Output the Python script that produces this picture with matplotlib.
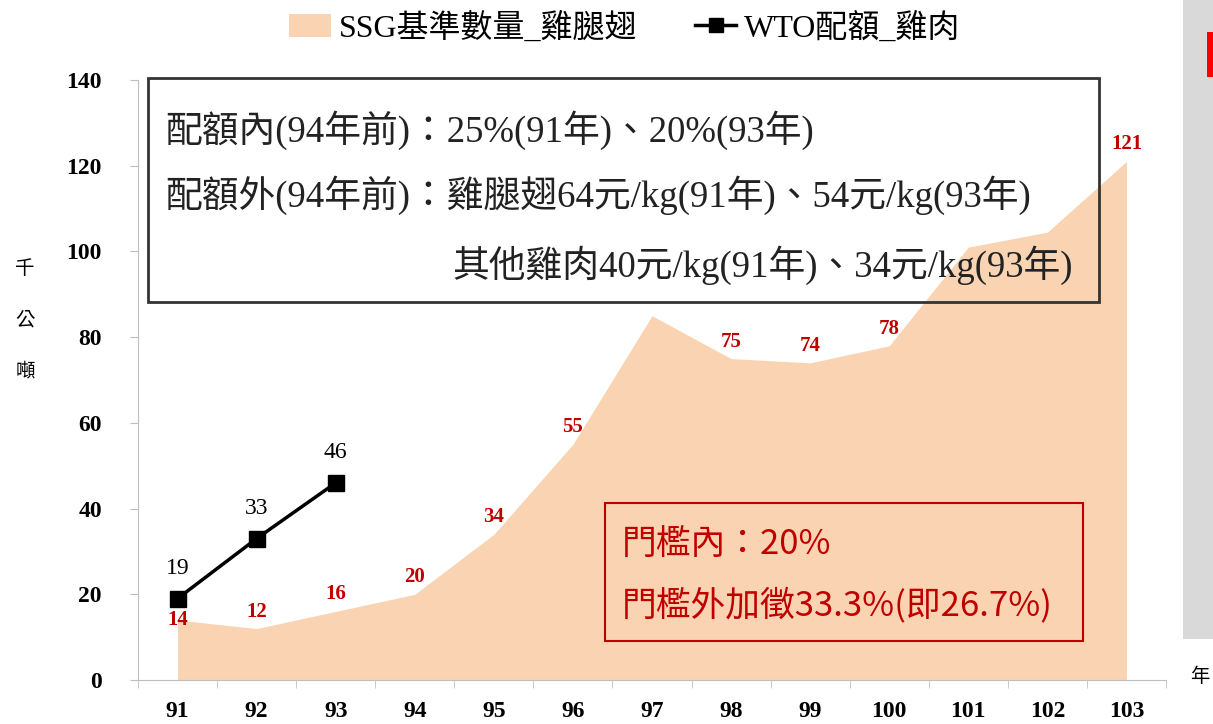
import matplotlib.pyplot as plt
from matplotlib.patches import Rectangle
from matplotlib.lines import Line2D

# ---- data ----
years = [91, 92, 93, 94, 95, 96, 97, 98, 99, 100, 101, 102, 103]
ssg_wing = [14, 12, 16, 20, 34, 55, 85, 75, 74, 78, 101, 104.5, 121]
ssg_labels = ["14", "12", "16", "20", "34", "55", "", "75", "74", "78", "", "", "121"]
wto_years = [91, 92, 93]
wto_chicken = [19, 33, 46]
yticks = [0, 20, 40, 60, 80, 100, 120, 140]

CJK = ["Noto Sans CJK TC", "DejaVu Sans"]
MIX = ["Liberation Serif", "Noto Sans CJK TC"]
SERIF = "Liberation Serif"
PEACH = "#fad4b2"
RED = "#c00000"

fig = plt.figure(figsize=(12.13, 7.24), dpi=100)
ax = fig.add_axes([138 / 1213, 1 - 680 / 724, 1028 / 1213, 600 / 724])

# area + line
ax.fill_between(years, ssg_wing, 0, color=PEACH, lw=0, zorder=1)
ax.plot(wto_years, wto_chicken, color="black", lw=2.5, marker="s", ms=12, zorder=4)

for x, y, lab in zip(years, ssg_wing, ssg_labels):
    if not lab:
        continue
    dy = 17 if x != 91 else 0
    ax.annotate(lab, (x, y), xytext=(0, dy * 0.72), textcoords="offset points",
                ha="center", va="center", color=RED, fontsize=15,
                fontweight="bold", family=SERIF, zorder=5)
for x, y in zip(wto_years, wto_chicken):
    ax.annotate(str(y), (x, y), xytext=(0, 30 * 0.72), textcoords="offset points",
                ha="center", va="center", color="black", fontsize=17,
                family=SERIF, zorder=5)

# axes
ax.set_xlim(90.5, 103.5)
ax.set_ylim(0, 140)
ax.set_yticks(yticks)
ax.set_xticks(years)
ax.set_xticks([y - 0.5 for y in years] + [103.5], minor=True)
ax.tick_params(axis="x", which="major", length=0, pad=15)
ax.tick_params(axis="x", which="minor", length=6, color="#bfbfbf", direction="out")
ax.tick_params(axis="y", length=6, color="#bfbfbf", direction="out", pad=20)
for lab in ax.get_xticklabels() + ax.get_yticklabels():
    lab.set_family(SERIF)
    lab.set_fontweight("bold")
    lab.set_fontsize(17)
for s in ["top", "right"]:
    ax.spines[s].set_visible(False)
ax.spines["left"].set_color("#bfbfbf")
ax.spines["bottom"].set_color("#bfbfbf")

# black note box
fig.patches.append(Rectangle((148 / 1213, 1 - 302 / 724), 951 / 1213, 224 / 724,
                             transform=fig.transFigure, fill=False, ec="#333333",
                             lw=2, zorder=6))
ax.set_zorder(2)
note = [
    (165, 130, "配額內(94年前)：25%(91年)、20%(93年)"),
    (165, 195, "配額外(94年前)：雞腿翅64元/kg(91年)、54元/kg(93年)"),
    (452, 265, "其他雞肉40元/kg(91年)、34元/kg(93年)"),
]
for px, py, t in note:
    fig.text(px / 1213, 1 - py / 724, t, ha="left", va="center", fontsize=26.5,
             family=MIX, color="#222222")

# red box
ax.add_patch(Rectangle((605 / 1213, 1 - 641 / 724), 478 / 1213, 138 / 724,
                       transform=fig.transFigure, fill=False, ec=RED, lw=1.5,
                       zorder=6))
fig.text(622 / 1213, 1 - 545 / 724, "門檻內：20%", ha="left", va="center",
         fontsize=25, family=CJK, color=RED)
fig.text(622 / 1213, 1 - 605 / 724, "門檻外加徵33.3%(即26.7%)", ha="left",
         va="center", fontsize=25, family=CJK, color=RED)

# legend
handles = [Rectangle((0, 0), 1, 1, fc=PEACH, ec="none"),
           Line2D([], [], color="black", lw=2.5, marker="s", ms=10)]
leg = fig.legend(handles, ["SSG基準數量_雞腿翅", "WTO配額_雞肉"], loc="center",
                 bbox_to_anchor=(625 / 1213, 1 - 28 / 724), ncol=2, frameon=False,
                 prop={"family": MIX, "size": 23}, handlelength=1.3,
                 handletextpad=0.25, columnspacing=1.8)

# axis titles
fig.text(25 / 1213, 1 - 320 / 724, "千\n公\n噸", ha="center", va="center",
         fontsize=14, family=CJK, linespacing=2.9)
fig.text(1200 / 1213, 1 - 676 / 724, "年", ha="center", va="center",
         fontsize=14, family=CJK)

# slide side strip
fig.patches.append(Rectangle((1183 / 1213, 1 - 639 / 724), 30 / 1213, 639 / 724,
                             transform=fig.transFigure, fc="#d9d9d9", ec="none",
                             zorder=0))
fig.patches.append(Rectangle((1207 / 1213, 1 - 77 / 724), 6 / 1213, 45 / 724,
                             transform=fig.transFigure, fc="#ff0000", ec="none",
                             zorder=1))

fig.savefig("out.png", dpi=100)
